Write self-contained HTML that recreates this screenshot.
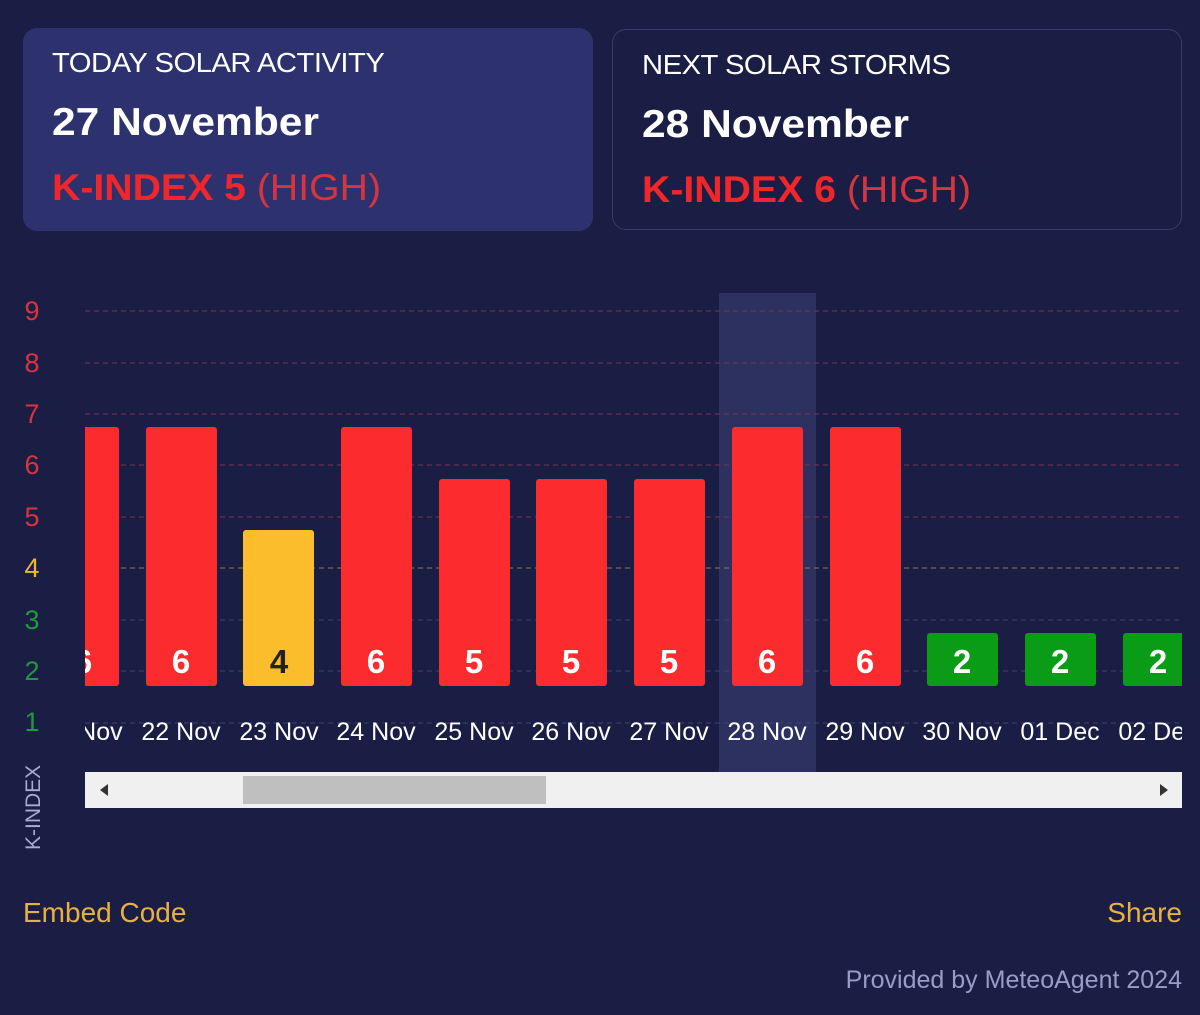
<!DOCTYPE html>
<html><head><meta charset="utf-8"><style>
html,body{margin:0;padding:0;background:#1b1e44;width:1200px;height:1015px;overflow:hidden;font-family:"Liberation Sans",Arial,sans-serif}
.card{position:absolute;top:28px;width:570px;height:203px;border-radius:14px;box-sizing:border-box}
.c1{left:23px;background:#2d326f}
.c2{left:612px;border:1.5px solid #363b6d;top:29px;height:201px}
.t1,.t2,.t3{position:absolute;left:29px;white-space:nowrap;transform-origin:0 0}
.t1{top:19px;font-size:28px;color:#fff;letter-spacing:-0.5px;transform:scaleX(1.044)}
.t2{top:73px;font-size:39px;font-weight:bold;color:#fff;transform:scaleX(1.09)}
.t3{top:139px;font-size:37px;color:#ee2a2e;transform:scaleX(1.06)}
.t3 b{color:#f0262a}.t3 span{color:#d8343f}
</style></head><body>
<div class="card c1"><div class="t1">TODAY SOLAR ACTIVITY</div><div class="t2">27 November</div><div class="t3"><b>K-INDEX 5</b> <span>(HIGH)</span></div></div>
<div class="card c2"><div class="t1">NEXT SOLAR STORMS</div><div class="t2">28 November</div><div class="t3"><b>K-INDEX 6</b> <span>(HIGH)</span></div></div>
<svg width="1200" height="1015" style="position:absolute;left:0;top:0" font-family="Liberation Sans,Arial,sans-serif">
<defs><clipPath id="c"><rect x="85" y="280" width="1097" height="500"/></clipPath></defs>
<g font-size="27" text-anchor="middle">
<text x="32" y="320" fill="#d8343f">9</text><text x="32" y="372" fill="#d8343f">8</text><text x="32" y="423" fill="#d8343f">7</text>
<text x="32" y="474" fill="#d8343f">6</text><text x="32" y="526" fill="#d8343f">5</text><text x="32" y="577" fill="#e8b833">4</text>
<text x="32" y="629" fill="#1f9a3a">3</text><text x="32" y="680" fill="#1f9a3a">2</text><text x="32" y="731" fill="#1f9a3a">1</text>
</g>
<text transform="translate(40,850) rotate(-90)" font-size="21" fill="#a9acd0">K-INDEX</text>
<rect x="719" y="293" width="97" height="479" fill="#2c3160"/>
<g stroke-dasharray="5,4" stroke-width="1">
<line x1="85" x2="1182" y1="311" y2="311" stroke="#7a3450"/><line x1="85" x2="1182" y1="363" y2="363" stroke="#7a3450"/>
<line x1="85" x2="1182" y1="414" y2="414" stroke="#7a3450"/><line x1="85" x2="1182" y1="465" y2="465" stroke="#7a3450"/>
<line x1="85" x2="1182" y1="517" y2="517" stroke="#7a3450"/><line x1="85" x2="1182" y1="568" y2="568" stroke="#8a7a50"/>
<line x1="85" x2="1182" y1="620" y2="620" stroke="#3f4470"/><line x1="85" x2="1182" y1="671" y2="671" stroke="#3f4470"/>
<line x1="85" x2="1182" y1="723" y2="723" stroke="#3f4470"/>
</g>
<g clip-path="url(#c)">
<rect x="48" y="427" width="71" height="259" rx="3" fill="#fc2b2d"/>
<rect x="146" y="427" width="71" height="259" rx="3" fill="#fc2b2d"/>
<rect x="243" y="530" width="71" height="156" rx="3" fill="#fbbd2b"/>
<rect x="341" y="427" width="71" height="259" rx="3" fill="#fc2b2d"/>
<rect x="439" y="479" width="71" height="207" rx="3" fill="#fc2b2d"/>
<rect x="536" y="479" width="71" height="207" rx="3" fill="#fc2b2d"/>
<rect x="634" y="479" width="71" height="207" rx="3" fill="#fc2b2d"/>
<rect x="732" y="427" width="71" height="259" rx="3" fill="#fc2b2d"/>
<rect x="830" y="427" width="71" height="259" rx="3" fill="#fc2b2d"/>
<rect x="927" y="633" width="71" height="53" rx="3" fill="#0b9c17"/>
<rect x="1025" y="633" width="71" height="53" rx="3" fill="#0b9c17"/>
<rect x="1123" y="633" width="71" height="53" rx="3" fill="#0b9c17"/>
<g font-size="33" font-weight="bold" text-anchor="middle" fill="#fff">
<text x="83" y="673">6</text><text x="181" y="673">6</text><text x="279" y="673" fill="#222">4</text><text x="376" y="673">6</text>
<text x="474" y="673">5</text><text x="571" y="673">5</text><text x="669" y="673">5</text><text x="767" y="673">6</text>
<text x="865" y="673">6</text><text x="962" y="673">2</text><text x="1060" y="673">2</text><text x="1158" y="673">2</text>
</g>
<g font-size="25" text-anchor="middle" fill="#fff">
<text x="83" y="740">21 Nov</text><text x="181" y="740">22 Nov</text><text x="279" y="740">23 Nov</text><text x="376" y="740">24 Nov</text>
<text x="474" y="740">25 Nov</text><text x="571" y="740">26 Nov</text><text x="669" y="740">27 Nov</text><text x="767" y="740">28 Nov</text>
<text x="865" y="740">29 Nov</text><text x="962" y="740">30 Nov</text><text x="1060" y="740">01 Dec</text><text x="1158" y="740">02 Dec</text>
</g>
</g>
<rect x="85" y="772" width="1097" height="36" fill="#f0f0f0"/>
<rect x="243" y="776" width="303" height="28" fill="#bfbfbf"/>
<polygon points="100,790 108,784 108,796" fill="#333"/>
<polygon points="1168,790 1160,784 1160,796" fill="#333"/>
<text x="23" y="922" font-size="28" fill="#e8b040">Embed Code</text>
<text x="1182" y="922" font-size="28" fill="#e8b040" text-anchor="end">Share</text>
<text x="1182" y="988" font-size="25" fill="#9a9cc8" text-anchor="end">Provided by MeteoAgent 2024</text>
</svg>
</body></html>
